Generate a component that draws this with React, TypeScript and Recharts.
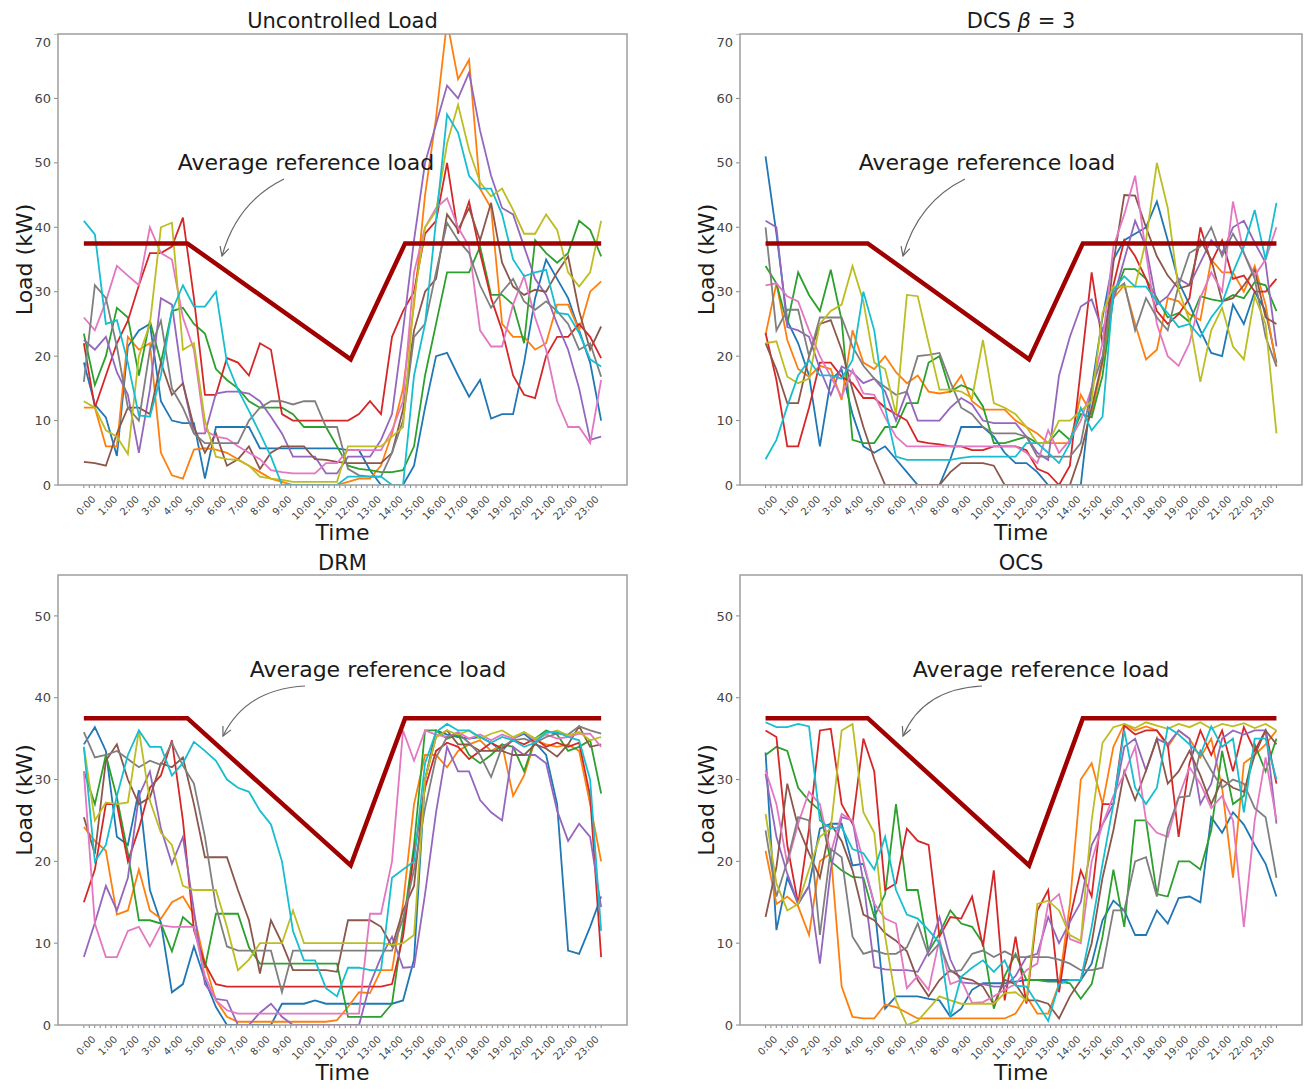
import React from 'react';
import { LineChart, Line, XAxis, YAxis } from 'recharts';

// matplotlib tab10
const COLORS = ['#1f77b4', '#ff7f0e', '#2ca02c', '#d62728', '#9467bd', '#8c564b', '#e377c2', '#7f7f7f', '#bcbd22', '#17becf'];
const REF_COLOR = '#a00000';
const FONT = 'DejaVu Sans';

const HOUR_LABELS = ['0:00', '1:00', '2:00', '3:00', '4:00', '5:00', '6:00', '7:00', '8:00', '9:00', '10:00', '11:00',
  '12:00', '13:00', '14:00', '15:00', '16:00', '17:00', '18:00', '19:00', '20:00', '21:00', '22:00', '23:00'];
const TOP_TICKS = [0, 10, 20, 30, 40, 50, 60, 70];
const BOTTOM_TICKS = [0, 10, 20, 30, 40, 50];

// average reference load (hours, kW)
const REF_HOURS = [0, 4.75, 12.25, 14.75, 23.75];
const REF_LOAD = [37.5, 37.5, 19.5, 37.5, 37.5];

// samples are spread evenly over 0:00 .. 23:45
const STEP = 23.75 / 47;
const QUARTER_TICKS = Array.from({ length: 96 }, (_, i) => i / 4);

// ---- Uncontrolled Load ----
const ucBlue = [19, 12.5, 10.5, 4.5, 21.5, 24, 25, 13, 10, 9.6, 9.6, 1, 9, 9, 9, 9, 5.7, 5.7, 5.7, 5.7, 5.7, 5.7, 5.7, 5.7, 5.4, 5.4, 2.3, 0, 0, 0, 3, 12, 20, 20.5, 17, 13.7, 16.3, 10.3, 11, 11, 19, 29, 35, 32, 29, 24, 19, 10];
const ucOrange = [12, 12, 6, 6, 23, 21, 22, 5, 1.5, 1, 5.5, 5.7, 5.5, 5, 4, 3, 2, 1, 0.5, 0, 0, 0, 0, 0, 0.5, 1, 1, 3, 8, 15, 28, 45, 57, 72, 63, 66, 46, 43, 25, 23, 23, 21, 22, 28, 28, 24, 30, 31.6];
const ucGreen = [23.5, 15.5, 20, 27.5, 26, 17, 25.5, 19, 27, 27.5, 25, 23.5, 18, 16.3, 15, 13, 12, 12, 12, 11, 9, 9, 9, 6, 3, 2.5, 2.3, 2, 2, 2.3, 6, 17, 25, 33, 33, 33, 37, 29.5, 29.5, 28, 22, 38, 36, 34.5, 36, 41, 39.6, 35.5];
const ucRed = [22, 12, 17, 22, 25.5, 31, 36, 36, 37, 41.5, 29, 14, 14, 19.7, 19, 17, 22, 21, 11, 10, 10, 10, 10, 10, 10, 11, 13, 11, 23, 27, 30, 39, 41, 50, 39, 44, 36, 29, 24, 17, 14, 13.5, 20, 23, 23, 25, 23, 19.7];
const ucPurple = [22.5, 21, 23, 17.5, 14, 5, 14.8, 29, 28, 15.8, 8, 8, 14.2, 14.5, 14.5, 14.2, 13, 10.6, 8, 4.4, 4.4, 4.4, 1.8, 1.8, 4.4, 4.4, 4.4, 7, 11, 24, 38, 50, 56, 62, 60, 64, 55, 48, 43, 42, 37, 32, 29.5, 25, 21, 15, 7, 7.5];
const ucBrown = [3.6, 3.4, 3, 8, 12, 12, 11, 19, 14, 15.8, 9, 5, 8, 3, 4, 6, 2.5, 5, 6, 6, 6, 4, 3.9, 3.6, 3.4, 3.4, 3.4, 3.4, 5, 11.7, 24, 30, 32, 42, 39.6, 43, 38, 43.8, 34.5, 30.8, 29.5, 30.3, 30, 33, 35.5, 27, 21, 24.6];
const ucPink = [26, 24, 28.5, 34, 32.5, 31, 40, 36, 35, 26, 21, 8.5, 7.5, 7.2, 6, 5, 4, 2.3, 2, 1.8, 1.8, 1.8, 3.4, 3.4, 5.4, 5.4, 5.4, 5.4, 8.5, 13, 33, 40, 43, 44.5, 40, 37, 24, 21.5, 21.5, 28, 32.4, 26, 21, 13, 9, 9, 6.5, 16.3];
const ucGray = [16, 31, 29, 21.5, 12, 10, 21, 25.5, 15, 12, 8, 6.5, 6.5, 6.5, 6.5, 10, 12, 13, 13, 12.5, 13, 13, 9, 9, 2.5, 1.5, 1.3, 1.3, 5, 10, 23, 25, 33, 40.7, 38, 36, 31, 27.5, 30, 32, 28.5, 27.2, 28.5, 27, 25, 21, 22, 16.8];
const ucOlive = [13, 12, 8.5, 7.5, 4.8, 20, 25, 40, 40.7, 21, 22, 10, 4.4, 4, 3.9, 3, 1.3, 1, 0.8, 0.5, 0.5, 0.5, 0.5, 0.5, 6, 6, 6, 6, 7.5, 9, 29, 40, 42.5, 53, 59, 52, 47, 44.8, 46, 42.7, 39, 39, 42, 39.6, 33, 30.8, 33, 41];
const ucCyan = [41, 38.9, 25, 25.6, 19, 10.8, 10.6, 17, 27, 31, 27.7, 27.7, 30, 19, 14.8, 11.5, 8, 4.4, 0, 0, 0, 0, 0, 0, 1.3, 1.3, 1.3, 1.3, 0, 0, 17, 25, 41, 57.5, 54.7, 48, 46, 46, 42, 35, 32.4, 33, 33.4, 26.7, 26.5, 23.6, 19.5, 18.4];
const UNCONTROLLED = [ucBlue, ucOrange, ucGreen, ucRed, ucPurple, ucBrown, ucPink, ucGray, ucOlive, ucCyan];

// ---- DCS beta = 3 ----
const dcsBlue = [51, 39, 25.5, 22, 17, 6, 16.3, 17.9, 11, 6, 5, 6, 4, 2, 0, 0, 0, 4, 9, 9, 9, 7.5, 5, 3.4, 3.4, 2, 0, 0, 0, 0, 15, 26, 35, 38, 39, 40, 44, 38, 31.5, 28, 24, 20.5, 20, 28, 25, 30, 27, 19];
const dcsOrange = [23.3, 31.3, 22.5, 18, 16.8, 18.5, 18, 13.2, 24, 19, 18, 20, 17.5, 15.8, 17, 14.5, 14.2, 14.5, 17, 13, 11.7, 11.7, 11.7, 10, 9, 8, 6.5, 6.5, 6.5, 14, 11, 19, 29, 31, 25, 19.5, 21, 29, 28.5, 26.5, 25.6, 35, 33, 33, 30, 34, 28, 18.4];
const dcsGreen = [34, 31.3, 25, 33, 29.5, 27, 33.4, 25.6, 7, 6.5, 6.5, 9, 9, 12.7, 12.7, 19, 20, 14.5, 15.5, 14.8, 12.2, 6.5, 6.5, 7, 7.5, 6.5, 6.5, 8.5, 7, 11, 10.5, 17, 29, 33.5, 33.5, 32, 29, 26, 26.7, 25.3, 29.3, 28.8, 28.5, 29.5, 29, 31.5, 31, 27];
const dcsRed = [23.6, 16.3, 6, 6, 12, 19, 19, 16.8, 15.8, 13.5, 13.5, 12, 11, 10, 6.8, 6.5, 6.3, 6, 6, 5.4, 5.4, 6, 6, 6, 5.4, 2.5, 1.8, 0, 3, 18, 33, 22, 31, 38, 35.5, 32, 27, 25, 26.5, 29, 40, 34.5, 38, 32, 32.5, 30, 30, 32];
const dcsPurple = [41, 40, 24.5, 24, 23, 18, 14, 18.4, 17.5, 15.8, 16.5, 14.5, 10, 14.5, 10, 10, 10, 12, 13.5, 12.5, 10, 9.6, 9.6, 9.6, 7.5, 5, 3.9, 17, 23, 27.7, 28.8, 24, 29, 35, 41, 37, 28, 29.3, 32, 31, 34.5, 38, 36, 40, 41, 37.6, 34.5, 21.5];
const dcsBrown = [22, 17.9, 12.7, 12.7, 20, 25, 25.6, 21, 14.8, 9, 4, 0, 0, 0, 0, 0, 0, 2, 3.4, 3.4, 3.4, 3, 0, 0, 0, 0, 0, 0, 0, 5, 12, 19.4, 34.5, 45, 44.9, 40, 35.5, 32.5, 30.5, 31, 38, 35, 28.5, 29, 31, 33.4, 26, 25];
const dcsPink = [31, 31.3, 29.3, 28.5, 24, 20, 16.8, 13.7, 17.9, 14.2, 14, 10.5, 7.5, 6, 6, 6, 6, 6, 6, 6, 6, 6, 6, 6, 5, 3.4, 8.5, 5, 7, 10, 15, 22, 37, 42, 48, 36, 25, 20, 18.5, 22, 29, 33, 30, 44, 36, 32.5, 35, 40];
const dcsGray = [40, 24, 27.2, 27.2, 20, 26, 26, 26, 21.5, 18.5, 16.5, 15.2, 14, 14.5, 20, 20.2, 20.5, 16, 12, 11, 9, 8, 8, 8, 7.5, 4.4, 4.4, 4.4, 4.4, 6.5, 15, 20, 30, 31.3, 24, 29, 26, 24, 31, 36, 37, 40, 35.5, 39, 36, 32, 23, 18.4];
const dcsOlive = [22, 22.3, 16.8, 15.8, 16.5, 25, 27, 28, 34, 28.5, 19, 18, 11, 29.5, 29.3, 22, 14.8, 14.8, 14.5, 13.5, 22.5, 12.7, 12, 11, 9, 6.5, 6.5, 10, 10, 11.5, 13, 26.7, 30.8, 30.8, 30.8, 38, 50, 43, 30.3, 25.5, 16, 24, 27.5, 21.5, 19.5, 29.3, 25, 8];
const dcsCyan = [4, 7, 12.2, 17, 19.4, 17, 17, 16.5, 19.4, 30, 24, 12, 4.4, 3.9, 3.9, 3.9, 3.9, 3.9, 4.2, 4.4, 4.4, 4.4, 4.4, 4.4, 6.5, 6.5, 5, 3.4, 6.5, 12, 8.5, 10.6, 30.3, 32.4, 30.8, 30.8, 28.5, 26.7, 24.5, 25, 23, 26, 28.2, 33, 37, 42.7, 35, 43.8];
const DCS = [dcsBlue, dcsOrange, dcsGreen, dcsRed, dcsPurple, dcsBrown, dcsPink, dcsGray, dcsOlive, dcsCyan];

// ---- DRM ----
const drmBlue = [34.3, 36.4, 33.5, 23, 22, 28.7, 16.5, 12.5, 4, 5, 9.6, 5.5, 2.2, 0, 0, 0, 0, 0, 2.6, 2.6, 2.6, 3, 2.6, 2.6, 2.6, 2.6, 2.6, 2.6, 2.6, 3, 8, 30, 36, 35.5, 35.2, 35, 35.2, 34.5, 33.5, 35, 35.6, 34.5, 33, 27, 9.1, 8.7, 12, 15.7];
const drmOrange = [24.2, 22.5, 21.3, 13.5, 14, 19, 14, 13, 15, 15.7, 13.5, 7.5, 3, 1, 0.4, 0.4, 0.4, 0.4, 0.4, 0.4, 0.4, 0.4, 0.4, 0.6, 2.2, 4, 3.9, 6.7, 6.7, 14.8, 27, 33, 33, 31.5, 33.5, 34.3, 34.8, 33.5, 34.3, 28, 30.5, 34.8, 34.3, 34, 34.3, 33.5, 27, 20];
const drmGreen = [31, 27, 33, 27.8, 21, 12.8, 12.8, 12.4, 9, 13.2, 12, 7, 13.6, 13.6, 13.6, 9.5, 7.5, 7.5, 7.5, 7.5, 7.5, 7.5, 7.5, 7.5, 1, 1, 1, 1, 2.6, 12, 22, 36, 36, 35, 35.5, 33, 32, 33, 34.3, 34, 31, 35, 36, 35.5, 33.5, 34, 34.8, 28.3];
const drmRed = [15, 19, 27, 27, 20, 24, 29, 30.5, 34.8, 25, 11.6, 7.5, 5, 4.7, 4.7, 4.7, 4.7, 4.7, 4.7, 4.7, 4.7, 4.7, 4.7, 4.7, 4.7, 4.7, 4.7, 4.7, 5, 10.8, 21, 29, 33.5, 34.5, 34, 32.5, 33.5, 34.5, 33.8, 34.8, 34.3, 35, 34, 34.5, 34, 34.5, 28, 8.3];
const drmPurple = [8.3, 12.5, 17, 14, 18, 28, 31, 24, 19.7, 23, 14, 5, 3.2, 3, 0, 0, 1.5, 2.6, 1, 0, 0, 0, 0, 0, 0, 0, 5, 8.3, 10.8, 7, 7.1, 16, 26, 34, 31, 31, 27.5, 26, 25, 34, 33, 33, 32, 26.2, 22.5, 24.6, 23, 14.4];
const drmBrown = [25.4, 20.9, 32.3, 34.3, 30, 27, 27.8, 32, 31.5, 32.7, 27, 20.5, 20.5, 20.5, 16.5, 12.8, 6.3, 12.8, 10, 6.7, 6.7, 6.7, 6.7, 6.5, 12.8, 12.8, 12.8, 12, 9.6, 14, 17, 30, 35.2, 36, 34.3, 34.3, 33.5, 33.5, 33.5, 33, 33, 34.3, 33.8, 32.8, 34.3, 36.5, 34, 34.3];
const drmPink = [31, 12.4, 8.3, 8.3, 11.5, 12, 9.6, 12.2, 12, 12, 12, 6, 3, 1.8, 1.4, 1.4, 1.4, 1.4, 1.4, 1.4, 1.4, 1.4, 1.4, 1.4, 1.4, 1.4, 13.6, 13.6, 20, 36, 32.3, 36, 35.5, 35.2, 35.8, 35, 35.5, 34.8, 35.5, 35, 35.8, 34.8, 35.5, 35, 35.2, 35.6, 35.6, 34];
const drmGray = [35.8, 32.7, 33, 33.5, 32.5, 31.5, 32.3, 31.8, 34.5, 31.7, 29.5, 23, 14.5, 9.6, 9.1, 9.1, 9.1, 9.1, 4, 9.1, 9.1, 9.1, 9.1, 9.1, 9.1, 9.1, 9.1, 9.1, 9.1, 13, 19, 26.5, 32.7, 35.2, 35.6, 34.5, 33, 30.3, 34, 34.8, 35, 34.5, 35.2, 35.6, 35.5, 36.5, 36, 35.6];
const drmOlive = [34, 25, 27.2, 27, 27.2, 36, 27.4, 23.5, 22, 17, 16.5, 16.5, 16.5, 12, 6.7, 8, 10, 10, 10, 14, 10, 10, 10, 10, 10, 10, 10, 10, 9.8, 10, 11, 30, 35.2, 36, 35.5, 36, 35, 35.6, 36, 35.2, 35.8, 35, 35.6, 36, 35.4, 35.8, 34.8, 35.2];
const drmCyan = [34, 20, 22, 28, 33, 36, 34, 34, 30.5, 32, 34.6, 33.5, 32.3, 30, 29, 28.5, 26.2, 24.5, 20, 11.5, 7.9, 7.9, 4.5, 3.5, 7, 7, 6.7, 6.7, 18, 19, 20, 32, 35.8, 36.8, 36, 36, 35.2, 34.5, 35.2, 34.8, 34, 34.5, 35.8, 35.8, 35.2, 34.8, 30, 11.5];
const DRM = [drmBlue, drmOrange, drmGreen, drmRed, drmPurple, drmBrown, drmPink, drmGray, drmOlive, drmCyan];

// ---- OCS ----
const ocsBlue = [33.3, 11.6, 18, 14.8, 17, 24, 24.6, 24.6, 19.5, 19.7, 14.8, 2, 3.5, 3.5, 3.5, 3.2, 3, 1, 2, 4.3, 5.1, 5.1, 5.1, 5.3, 5.5, 5.5, 5.5, 5.5, 5.5, 5.5, 7.5, 12.8, 15.2, 14, 11, 11, 14, 12.4, 15.5, 15.7, 15, 25.4, 23.5, 26, 24.5, 22, 19.7, 15.7];
const ocsOrange = [21.3, 14.8, 15.7, 14.5, 11, 20, 21, 4.7, 1, 0.8, 0.8, 2.5, 2.2, 1.5, 0.8, 0.8, 0.8, 0.8, 0.8, 0.8, 0.8, 0.8, 0.8, 1.4, 3.5, 1.4, 1.4, 5, 14.8, 30, 32, 27, 34, 36.8, 36, 36.5, 36, 34, 36, 35, 32.7, 35, 29, 18, 32, 33, 34.3, 36];
const ocsGreen = [33, 34, 33.5, 29, 27.4, 26.2, 20, 18.9, 18.1, 18, 13.2, 16, 27, 16.5, 16.5, 9, 11.2, 14, 12.4, 12, 10, 2, 6, 8.7, 5.5, 5.5, 5.3, 5.3, 5.1, 3.2, 5, 10.8, 19, 12, 25, 25, 16, 15.7, 20, 20, 19, 23.8, 33.5, 27, 28, 34.3, 31, 35];
const ocsRed = [36, 35.2, 22, 14.8, 24, 36, 36.2, 27, 24.6, 35, 31, 16.5, 17.3, 24, 22.5, 22, 10.8, 13.2, 13, 15.7, 9.6, 18.9, 3, 10.8, 2.6, 14, 16.5, 4, 13, 18.9, 15.7, 27, 27, 36.6, 35.5, 36, 36, 34.3, 23, 32, 36, 33, 36, 31, 36.4, 33.5, 36, 29.5];
const ocsPurple = [30.7, 23, 18.5, 14.8, 17, 7.5, 19, 25.4, 25, 17.5, 7.1, 6.8, 6.7, 6.7, 6.5, 9, 13.2, 8, 5.2, 5.1, 5, 4.7, 4.7, 6, 8.3, 8.7, 13.2, 10, 12.6, 15, 22, 24.5, 27, 34, 35, 31.1, 35, 34.3, 36, 35, 27, 29.5, 35, 36, 35.5, 36, 36, 24.6];
const ocsBrown = [13.2, 19.3, 29.5, 24.2, 21, 18, 24.6, 22.5, 18.9, 13.5, 12.8, 11.2, 10.3, 9, 5.5, 3.5, 5.5, 6.7, 5.8, 5.5, 4.7, 2.5, 5.5, 5, 3, 3, 2.6, 0.8, 3.5, 5.5, 10, 18, 23.8, 31, 27.5, 31.1, 35, 29.5, 31, 33.5, 30.5, 27, 30, 29, 28.5, 33, 36, 34.3];
const ocsPink = [31.1, 27, 19.7, 24.6, 28.5, 27, 21, 25.8, 25, 20, 14.8, 13, 12.4, 4.5, 6, 4.3, 10.5, 5, 5.5, 2.7, 2.8, 3.5, 4.3, 5, 6.7, 7.5, 14.8, 16, 10.5, 10, 20, 24.5, 28, 30.7, 34, 25, 23.5, 23, 27.8, 31.5, 29.5, 26.5, 28, 25, 12, 25, 32.7, 25];
const ocsGray = [23.8, 15.7, 20, 25.4, 25, 11, 21.5, 20.5, 10.8, 8.7, 9.1, 8.7, 8.7, 9.5, 12.4, 8.5, 10, 6.5, 6.7, 8.7, 9.1, 8.3, 9, 8.3, 8.3, 8.3, 8.3, 8, 7.5, 6.7, 6.7, 7, 14, 14, 20, 20.5, 15.7, 24, 27.8, 28, 33.5, 31.1, 29, 30, 29.5, 26.5, 25.4, 18];
const ocsOlive = [25.8, 17.3, 14, 14.8, 19, 23, 24, 36, 36.8, 26, 23.5, 10.8, 3, 0, 0.5, 2, 3.5, 3, 2.6, 2.6, 2.6, 2.6, 3.9, 4, 3, 14.8, 15.2, 14, 11, 10.3, 25, 34.5, 36.4, 36.8, 36.3, 37, 36.6, 36.2, 36.8, 36.4, 37, 36.2, 36.8, 36.5, 36.9, 36.3, 36.8, 36];
const ocsCyan = [37, 36.4, 36.4, 36.8, 36.5, 25, 24, 24.2, 21.5, 21, 19, 23, 16.5, 13.5, 13, 11.6, 10, 1, 5.9, 7, 7.9, 6.5, 7.9, 4.8, 4.7, 2.6, 0.5, 5, 5.5, 5.5, 12, 19.7, 27, 36, 29, 27, 29, 36.4, 35.5, 34.3, 33, 36.5, 34, 35, 26, 35, 35, 30];
const OCS = [ocsBlue, ocsOrange, ocsGreen, ocsRed, ocsPurple, ocsBrown, ocsPink, ocsGray, ocsOlive, ocsCyan];

const Y_AXIS_W = 58;
const X_AXIS_H = 50;
const X_DOMAIN = [-1.1875, 24.9375];

const refRows = REF_HOURS.map((h, i) => ({ t: h, ref: REF_LOAD[i] }));

function TimeTick(props: any) {
  const { x, y, payload } = props;
  const v = payload.value;
  if (Math.abs(v - Math.round(v)) > 1e-6) return <g />;
  const label = HOUR_LABELS[Math.round(v)];
  const textW = (label.length - 1) * 6.36 + 3.4;
  const cx = x + 2;
  const cy = y + 4 + (textW + 10) * 0.354;
  return (
    <text x={cx} y={cy} transform={`rotate(-45 ${cx} ${cy})`} textAnchor="middle" dominantBaseline="central"
      fontSize={10} fill="#444" fontFamily={FONT}>{label}</text>
  );
}

type PanelProps = { left: number; top: number; width: number; height: number; yMax: number; yTicks: number[]; series: number[][] };

function Panel({ left, top, width, height, yMax, yTicks, series }: PanelProps) {
  const rows = series[0].map((_, i) => {
    const row: Record<string, number> = { t: i * STEP };
    series.forEach((s, k) => { row['s' + k] = s[i]; });
    return row;
  });
  return (
    <div style={{ position: 'absolute', left: left - Y_AXIS_W, top }}>
      <LineChart width={width + Y_AXIS_W} height={height + X_AXIS_H} data={rows} margin={{ top: 0, right: 0, bottom: 0, left: 0 }}>
        <XAxis dataKey="t" type="number" domain={X_DOMAIN} ticks={QUARTER_TICKS} interval={0} tick={<TimeTick />}
          tickSize={3} height={X_AXIS_H} axisLine={false} tickLine={{ stroke: '#888' }} allowDataOverflow />
        <YAxis type="number" domain={[0, yMax]} ticks={yTicks} width={Y_AXIS_W} tickSize={4} tickMargin={3}
          axisLine={false} tickLine={{ stroke: '#888' }} allowDataOverflow
          tick={{ fontSize: 13, fill: '#444', fontFamily: FONT }} />
        {series.map((_, k) => (
          <Line key={k} type="linear" dataKey={'s' + k} stroke={COLORS[k]} strokeWidth={1.8} dot={false} activeDot={false} isAnimationActive={false} />
        ))}
        <Line type="linear" data={refRows} dataKey="ref" stroke={REF_COLOR} strokeWidth={4.5} dot={false} activeDot={false} isAnimationActive={false} />
      </LineChart>
    </div>
  );
}

// plot areas in page pixels
const PANELS = [
  { left: 58, top: 34, width: 569, height: 451, yMax: 70, yTicks: TOP_TICKS, series: UNCONTROLLED },
  { left: 740, top: 34, width: 562, height: 451, yMax: 70, yTicks: TOP_TICKS, series: DCS },
  { left: 58, top: 575, width: 569, height: 450, yMax: 55, yTicks: BOTTOM_TICKS, series: DRM },
  { left: 740, top: 575, width: 562, height: 450, yMax: 55, yTicks: BOTTOM_TICKS, series: OCS },
];

const ANNOTATIONS = [
  { tx: 306, ty: 170, arrow: [284, 179, 237, 202, 222, 256] },
  { tx: 987, ty: 170, arrow: [965, 179, 918, 202, 903, 256] },
  { tx: 378, ty: 677, arrow: [305, 686, 246, 689, 223, 736] },
  { tx: 1041, ty: 677, arrow: [982, 686, 923, 689, 903, 736] },
];

function Arrow({ pts }: { pts: number[] }) {
  const [x0, y0, cx, cy, x1, y1] = pts;
  const dx = x1 - cx, dy = y1 - cy;
  const len = Math.hypot(dx, dy);
  const ux = dx / len, uy = dy / len;
  const L = 9, W = 4.5;
  const a = `${x1 - L * ux + W * uy},${y1 - L * uy - W * ux}`;
  const b = `${x1 - L * ux - W * uy},${y1 - L * uy + W * ux}`;
  return (
    <g stroke="#666" strokeWidth={1.2} fill="none">
      <path d={`M${x0},${y0} Q${cx},${cy} ${x1},${y1}`} />
      <polyline points={`${a} ${x1},${y1} ${b}`} />
    </g>
  );
}

export default function App() {
  return (
    <div style={{ position: 'absolute', left: 0, top: 0, width: 1311, height: 1089, background: '#fff', fontFamily: FONT }}>
      {PANELS.map((p, i) => <Panel key={i} {...p} />)}
      <svg width={1311} height={1089} style={{ position: 'absolute', left: 0, top: 0, pointerEvents: 'none' }}
        fontFamily={FONT} fill="#1a1a1a">
        {PANELS.map((p, i) => (
          <g key={i}>
            <rect x={p.left} y={p.top} width={p.width} height={p.height} fill="none" stroke="#9e9e9e" strokeWidth={1.5} />
            <text x={p.left - 34} y={p.top + p.height / 2} transform={`rotate(-90 ${p.left - 34} ${p.top + p.height / 2})`}
              textAnchor="middle" dominantBaseline="central" fontSize={22}>Load (kW)</text>
            <text x={p.left + p.width / 2} y={p.top + p.height + 55} textAnchor="middle" fontSize={22}>Time</text>
          </g>
        ))}
        <text x={342.5} y={28} textAnchor="middle" fontSize={21}>Uncontrolled Load</text>
        <text x={1021} y={28} textAnchor="middle" fontSize={21}>DCS <tspan fontStyle="italic">β</tspan> = 3</text>
        <text x={342.5} y={570} textAnchor="middle" fontSize={21}>DRM</text>
        <text x={1021} y={570} textAnchor="middle" fontSize={21}>OCS</text>
        {ANNOTATIONS.map((a, i) => (
          <g key={i}>
            <text x={a.tx} y={a.ty} textAnchor="middle" fontSize={22}>Average reference load</text>
            <Arrow pts={a.arrow} />
          </g>
        ))}
      </svg>
    </div>
  );
}
